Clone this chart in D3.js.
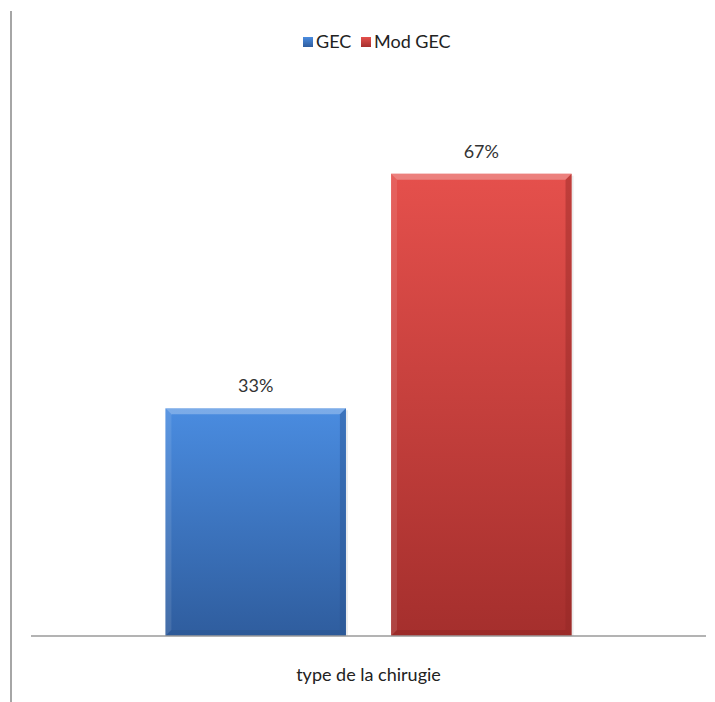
<!DOCTYPE html>
<html>
<head>
<meta charset="utf-8">
<script src="https://cdn.jsdelivr.net/npm/d3@7"></script>
<style>
  html, body { margin: 0; padding: 0; background: #fff; }
  svg { display: block; font-family: Lato, "Liberation Sans", sans-serif; }
</style>
</head>
<body>
<svg id="chart" width="715" height="702"></svg>
<script>
'use strict';

// data
const categories = ["type de la chirugie"];
const seriesNames = ["GEC", "Mod GEC"];
const seriesValues = [33, 67];   // percent
const seriesColors = [
  { top: "#4a8ce0", bottom: "#2f5d9e", edge: "#2a5591" },
  { top: "#e5504c", bottom: "#a52f2d", edge: "#922826" }
];

const W = 715, H = 702;
const baseY = 636;

const svg = d3.select("#chart");
const defs = svg.append("defs");

seriesColors.forEach((c, i) => {
  const g = defs.append("linearGradient")
    .attr("id", "grad" + i)
    .attr("x1", 0).attr("y1", 0).attr("x2", 0).attr("y2", 1);
  g.append("stop").attr("offset", "0%").attr("stop-color", c.top);
  g.append("stop").attr("offset", "100%").attr("stop-color", c.bottom);
});

// scales
const y = d3.scaleLinear().domain([0, 80]).range([baseY, baseY - 80 * 6.9]);
const x0 = d3.scaleBand().domain(categories).range([31, 706]).paddingInner(0).paddingOuter(0.331);
const x1 = d3.scaleBand().domain(seriesNames).range([0, x0.bandwidth()]).paddingInner(0.2).paddingOuter(0);

// left border line of the chart area
svg.append("line")
  .attr("x1", 11).attr("x2", 11)
  .attr("y1", 11).attr("y2", H)
  .attr("stroke", "#a6a6a6").attr("stroke-width", 2);

// bars
const group = svg.append("g")
  .attr("transform", `translate(${x0(categories[0])},0)`);

seriesNames.forEach((name, i) => {
  const bx = x1(name), bw = x1.bandwidth();
  const by = y(seriesValues[i]), bh = baseY - by;
  const c = seriesColors[i];

  // soft shadow on the right
  group.append("rect")
    .attr("x", bx + 2).attr("y", by + 2)
    .attr("width", bw).attr("height", bh - 2)
    .attr("fill", "#000").attr("opacity", 0.08);

  group.append("rect")
    .attr("x", bx).attr("y", by)
    .attr("width", bw).attr("height", bh)
    .attr("fill", `url(#grad${i})`);

  // bevel: light top, darker sides and bottom
  const bev = 6;
  group.append("path")
    .attr("d", `M${bx},${by} L${bx + bw},${by} L${bx + bw - bev},${by + bev} L${bx + bev},${by + bev} Z`)
    .attr("fill", "#fff").attr("opacity", 0.28);
  group.append("path")
    .attr("d", `M${bx},${by} L${bx + bev},${by + bev} L${bx + bev},${baseY - bev} L${bx},${baseY} Z`)
    .attr("fill", "#fff").attr("opacity", 0.1);
  group.append("path")
    .attr("d", `M${bx + bw},${by} L${bx + bw - bev},${by + bev} L${bx + bw - bev},${baseY - bev} L${bx + bw},${baseY} Z`)
    .attr("fill", c.edge).attr("opacity", 0.45);
  group.append("path")
    .attr("d", `M${bx},${baseY} L${bx + bev},${baseY - bev} L${bx + bw - bev},${baseY - bev} L${bx + bw},${baseY} Z`)
    .attr("fill", c.edge).attr("opacity", 0.5);

  // value label
  group.append("text")
    .attr("x", bx + bw / 2)
    .attr("y", by - 16)
    .attr("text-anchor", "middle")
    .style("font-size", "18px")
    .style("fill", "#333")
    .text(seriesValues[i] + "%");
});

// baseline
svg.append("line")
  .attr("x1", 31).attr("x2", 706)
  .attr("y1", baseY).attr("y2", baseY)
  .attr("stroke", "#9a9a9a").attr("stroke-width", 1.5);

// category label
svg.append("text")
  .attr("x", x0(categories[0]) + x0.bandwidth() / 2)
  .attr("y", 681)
  .attr("text-anchor", "middle")
  .style("font-size", "18px")
  .style("fill", "#222")
  .text(categories[0]);

// legend
const legendX = [303, 361];
seriesNames.forEach((name, i) => {
  const lg = svg.append("g").attr("transform", `translate(${legendX[i]},37)`);
  lg.append("rect")
    .attr("width", 10).attr("height", 10)
    .attr("fill", `url(#grad${i})`);
  lg.append("text")
    .attr("x", 13).attr("y", 11)
    .style("font-size", "18px")
    .style("fill", "#222")
    .text(name);
});
</script>
</body>
</html>
